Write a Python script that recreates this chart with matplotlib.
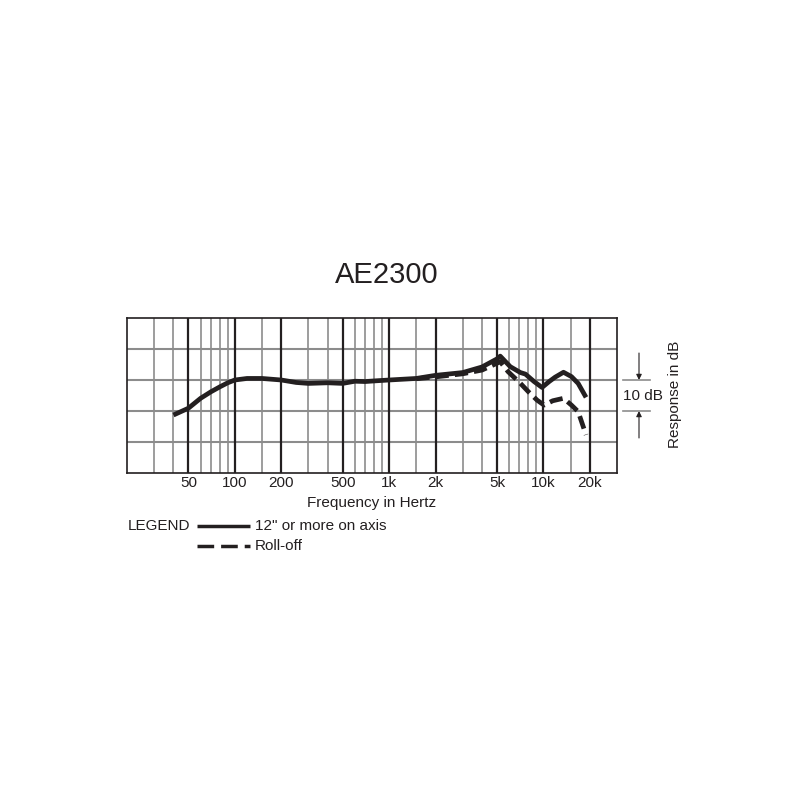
import numpy as np
import matplotlib
matplotlib.use("Agg")
import matplotlib.pyplot as plt
from matplotlib import transforms
from matplotlib.lines import Line2D

plt.rcParams['font.family'] = ['Liberation Sans', 'DejaVu Sans']

# ===== data =====
title = "AE2300"

freq_solid = [40, 50, 60, 70, 80, 90, 100, 120, 150, 200, 250, 300, 400, 500,
              600, 700, 800, 1000, 1500, 2000, 3000, 4000, 5000, 5250, 6100,
              7100, 7650, 8700, 9800, 10900, 11900, 13500, 15200, 16800, 18900]
resp_solid = [18.7, 20.9, 24.1, 26.2, 27.8, 29.1, 30.0, 30.5, 30.5, 30.0, 29.2,
              28.9, 29.1, 28.9, 29.6, 29.5, 29.7, 30.0, 30.5, 31.5, 32.4, 34.2,
              36.8, 37.7, 34.3, 32.4, 31.9, 29.5, 27.6, 29.5, 30.9, 32.5, 31.1,
              28.9, 24.4]

freq_rolloff = [1500, 2000, 3000, 4000, 5000, 5250, 5900, 7100, 8000, 9100,
                10100, 11500, 13500, 15200, 16800, 18900]
resp_rolloff = [30.4, 31.0, 32.0, 33.2, 35.4, 35.9, 32.7, 28.9, 26.2, 23.5,
                21.9, 23.3, 24.1, 21.9, 19.8, 12.3]

major_freqs = [50, 100, 200, 500, 1000, 2000, 5000, 10000, 20000]
major_labels = ["50", "100", "200", "500", "1k", "2k", "5k", "10k", "20k"]
minor_freqs = [30, 40, 60, 70, 80, 90, 150, 300, 400, 600, 700, 800, 900,
               1500, 3000, 4000, 6000, 7000, 8000, 9000, 15000]
db_lines = [10, 20, 30, 40]

ink = "#231f20"
grey = "#8c8c8c"
W = H = 800.0
fs = 11

fig = plt.figure(figsize=(8, 8), dpi=100)
ax = fig.add_axes([127 / W, 1 - 473 / H, 490 / W, 155 / H])
ax.set_xscale("log")
ax.set_xlim(20, 30000)
ax.set_ylim(0, 50)

# grid
for y in db_lines:
    ax.axhline(y, color=grey, lw=1.5, zorder=1)
for f in minor_freqs:
    ax.axvline(f, color=grey, lw=1.2, zorder=1)
for f in major_freqs:
    ax.axvline(f, color=ink, lw=1.6, zorder=2)

# curves
ax.plot(freq_rolloff, resp_rolloff, color=ink, lw=3.4,
        linestyle=(0, (2.8, 1.3)), zorder=3)
ax.plot(freq_solid, resp_solid, color=ink, lw=3.4, zorder=4,
        solid_capstyle="butt")

for s in ax.spines.values():
    s.set_color(ink)
    s.set_linewidth(1.2)

ax.set_xticks(major_freqs)
ax.set_xticklabels(major_labels)
ax.xaxis.set_minor_locator(matplotlib.ticker.NullLocator())
ax.tick_params(axis="x", length=0, pad=2.5, labelsize=fs, labelcolor=ink)
ax.set_yticks([])
ax.set_xlabel("Frequency in Hertz", fontsize=fs, color=ink, labelpad=4)

# title
fig.text(387 / W, 1 - 283 / H, title, ha="center", va="baseline",
         fontsize=21, color=ink)

# 10 dB bracket on the right
blend = transforms.blended_transform_factory(fig.transFigure, ax.transData)
for y in (20, 30):
    fig.add_artist(Line2D([623 / W, 650 / W], [y, y], transform=blend,
                          color=grey, lw=1.2))
ax.annotate("", xy=(639 / W, 30), xytext=(639 / W, 38.7), xycoords=blend,
            textcoords=blend,
            arrowprops=dict(arrowstyle="-|>", color=ink, lw=0.8,
                            mutation_scale=8, shrinkA=0, shrinkB=0))
ax.annotate("", xy=(639 / W, 20), xytext=(639 / W, 11.3), xycoords=blend,
            textcoords=blend,
            arrowprops=dict(arrowstyle="-|>", color=ink, lw=0.8,
                            mutation_scale=8, shrinkA=0, shrinkB=0))
ax.text(643 / W, 25, "10 dB", transform=blend, ha="center", va="center",
        fontsize=fs, color=ink)
ax.text(675 / W, 25.5, "Response in dB", transform=blend, ha="center",
        va="center", rotation=90, fontsize=fs, color=ink)

# legend
fig.text(128 / W, 1 - 526 / H, "LEGEND", ha="left", va="center",
         fontsize=fs, color=ink)
fig.add_artist(Line2D([197 / W, 250 / W], [1 - 525.5 / H] * 2, color=ink,
                      lw=2.5, solid_capstyle="butt"))
fig.text(255 / W, 1 - 526 / H, "12\" or more on axis", ha="left",
         va="center", fontsize=fs, color=ink)
fig.add_artist(Line2D([197 / W, 250 / W], [1 - 546 / H] * 2, color=ink,
                      lw=2.5, linestyle=(0, (4.8, 2.0)), dash_capstyle="butt"))
fig.text(255 / W, 1 - 546 / H, "Roll-off", ha="left", va="center",
         fontsize=fs, color=ink)

fig.savefig("out.png", dpi=100, facecolor="white")
